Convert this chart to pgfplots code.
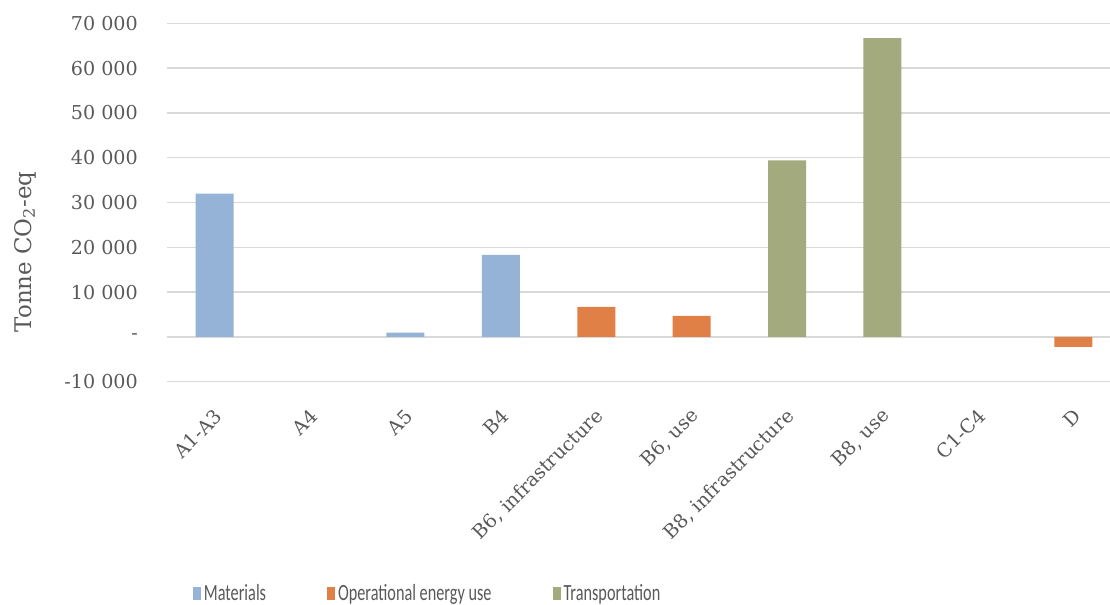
\documentclass[border=0pt]{standalone}
\usepackage{pgfplots}
\pgfplotsset{compat=1.18}
\usepackage{fontspec}
\setmainfont{DejaVu Serif}
\newfontfamily\legfont[FakeStretch=0.70]{Carlito}
\definecolor{mat}{HTML}{95B3D7}
\definecolor{ope}{HTML}{E07F46}
\definecolor{tra}{HTML}{A3AA7D}
\definecolor{gridc}{HTML}{D9D9D9}
\definecolor{txt}{HTML}{595959}
\begin{document}
\begin{tikzpicture}
\useasboundingbox (0,0) rectangle (1110bp,605bp);
\begin{axis}[
  at={(167bp,223.3bp)}, anchor=south west,
  width=943bp, height=358.4bp, scale only axis,
  xmin=-0.5, xmax=9.385,
  ymin=-10000, ymax=70000,
  scaled y ticks=false,
  ytick={-10000,0,10000,20000,30000,40000,50000,60000,70000},
  yticklabels={-10 000,-,10 000,20 000,30 000,40 000,50 000,60 000,70 000},
  xtick={0,1,2,3,4,5,6,7,8,9},
  xticklabels={A1-A3,A4,A5,B4,{B6, infrastructure},{B6, use},{B8, infrastructure},{B8, use},C1-C4,D},
  ymajorgrids, grid style={gridc, line width=1.4bp},
  axis line style={draw=none},
  major tick length=0pt,
  tick label style={font=\fontsize{19.2}{23}\selectfont, text=txt},
  yticklabel style={inner sep=0pt, xshift=-29bp},
  xticklabel style={xshift=4bp, yshift=-31bp, rotate=45, anchor=east, inner sep=0pt},
  ylabel={Tonne CO\textsubscript{2}-eq},
  ylabel style={at={(axis description cs:-0.1506,0.362)}, anchor=center, font=\fontsize{23}{27}\selectfont, text=txt},
  ybar, bar width=38bp,
  legend columns=3,
  legend style={at={(axis description cs:0.0273,-0.5896)}, anchor=west, draw=none, fill=none, inner sep=0pt,
    font=\legfont\fontsize{23.3}{28}\selectfont, text=txt,
    nodes={inner sep=3bp},
    /tikz/every even column/.append style={column sep=58bp}},
  legend cell align=left,
]
\addplot[fill=mat, draw=none, bar shift=0pt, legend image code/.code={\fill[mat] (0bp,-6.5bp) rectangle (8bp,6.5bp);}]
  coordinates {(0,32000) (2,980) (3,18300)};
\addlegendentry{Materials}
\addplot[fill=ope, draw=none, bar shift=0pt, legend image code/.code={\fill[ope] (0bp,-6.5bp) rectangle (8bp,6.5bp);}]
  coordinates {(4,6700) (5,4700) (9,-2230)};
\addlegendentry{Operational energy use}
\addplot[fill=tra, draw=none, bar shift=0pt, legend image code/.code={\fill[tra] (0bp,-6.5bp) rectangle (8bp,6.5bp);}]
  coordinates {(6,39400) (7,66700)};
\addlegendentry{Transportation}
\end{axis}
\end{tikzpicture}
\end{document}
